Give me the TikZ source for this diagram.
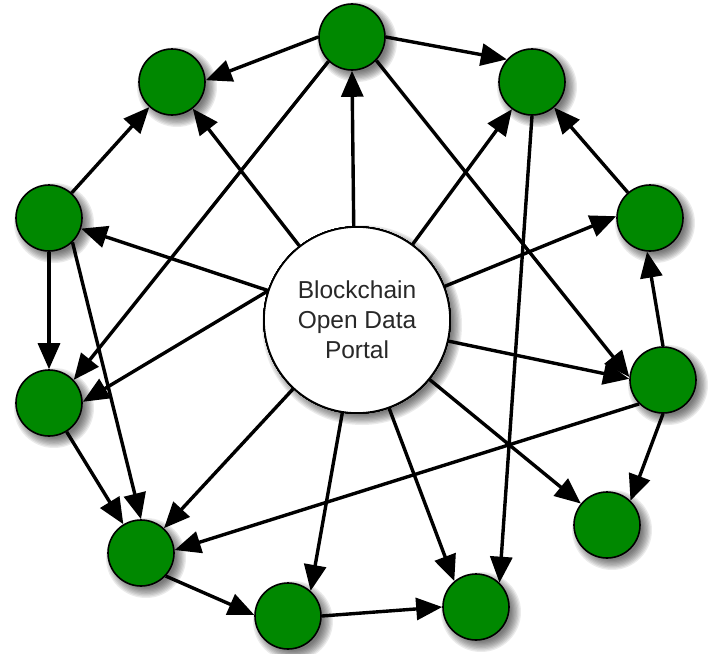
\documentclass[tikz,border=0pt]{standalone}
\usepackage{fontspec}
\setmainfont{Liberation Sans}
\usetikzlibrary{arrows.meta}
\definecolor{nodegreen}{RGB}{0,136,0}
\definecolor{textgray}{RGB}{40,40,40}
\tikzset{
  gnode/.style={circle, fill=nodegreen, draw=black, line width=1.6pt, minimum size=66pt, inner sep=0pt},
  hub/.style={circle, fill=white, draw=black, line width=1.6pt, minimum size=186pt, inner sep=0pt,
    align=center, text=textgray, font=\fontsize{24.5}{30}\selectfont},
  link/.style={line width=3.4pt, -{Triangle[length=26pt, width=22pt]}},
  softshade/.style={fill=black, opacity=0.08}
}
\newcommand{\blurshadow}[3]{%
  \foreach \k in {0,...,8}
    \fill[softshade] (#1+5,#2+5) circle ({#3+6-1.3*\k});%
}
\begin{document}
\begin{tikzpicture}[x=1pt,y=-1pt]
\useasboundingbox (0,0) rectangle (709,653);
% shadows
\blurshadow{357}{320}{94}
\foreach \x/\y in {352/37,172/82,532/82,49/218,650/218,49/403,663/380,141/553,607/525,288/616,476/607}
  \blurshadow{\x}{\y}{34}
\node[hub] (c) at (357,320) {Blockchain\\Open Data\\Portal};
\node[gnode] (n1) at (352,37) {};
\node[gnode] (n2) at (172,82) {};
\node[gnode] (n3) at (532,82) {};
\node[gnode] (n4) at (49,218) {};
\node[gnode] (n5) at (650,218) {};
\node[gnode] (n6) at (49,403) {};
\node[gnode] (n7) at (663,380) {};
\node[gnode] (n8) at (141,553) {};
\node[gnode] (n9) at (607,525) {};
\node[gnode] (n10) at (288,616) {};
\node[gnode] (n11) at (476,607) {};
% from the portal
\draw[link] (c.92) -- (n1.270);
\draw[link] (c) -- (n2);
\draw[link] (c) -- (n3);
\draw[link] (c) -- (n4);
\draw[link] (c.21) -- (n5.177);
\draw[link] (c.162) -- (n6.2);
\draw[link] (c.347) -- (n7.178);
\draw[link] (c) -- (n8);
\draw[link] (c) -- (n9);
\draw[link] (c.261) -- (n10.48);
\draw[link] (c.290) -- (n11.130);
% between the outer nodes
\draw[link] (n1.180) -- (n2.3);
\draw[link] (n1.0) -- (n3.138);
\draw[link] (n1.226) -- (n6.43);
\draw[link] (n1.-44) -- (n7.175);
\draw[link] (n3.270) -- (n11.46);
\draw[link] (n4) -- (n2);
\draw[link] (n4.270) -- (n6.90);
\draw[link] (n4.-46) -- (n8.90);
\draw[link] (n6) -- (n8);
\draw[link] (n5) -- (n3);
\draw[link] (n7.90) -- (n5.265);
\draw[link] (n7.270) -- (n9.46);
\draw[link] (n7.225) -- (n8.5);
\draw[link] (n8.-43) -- (n10.178);
\draw[link] (n10.0) -- (n11.180);
\end{tikzpicture}
\end{document}
